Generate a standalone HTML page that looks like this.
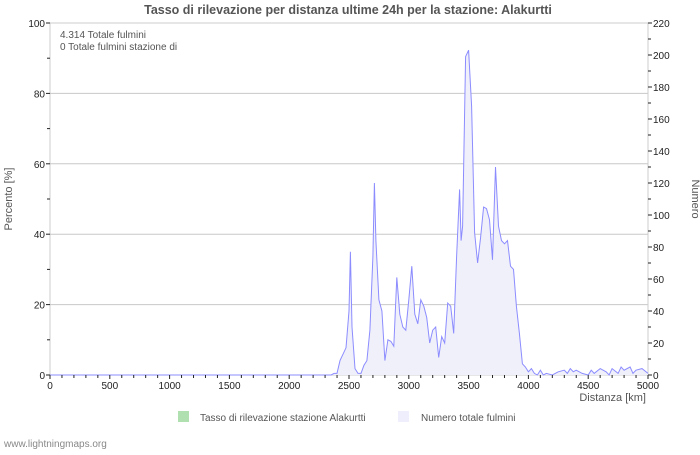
<!DOCTYPE html>
<html><head><meta charset="utf-8"><style>
body{margin:0;background:#fff;}
svg text{font-family:"Liberation Sans","DejaVu Sans",sans-serif;}
</style></head><body>
<svg id="c" width="700" height="450" xmlns="http://www.w3.org/2000/svg">
<rect width="700" height="450" fill="#fff"/>
<text x="348" y="14" text-anchor="middle" font-size="12.5" font-weight="bold" fill="#555">Tasso di rilevazione per distanza ultime 24h per la stazione: Alakurtti</text>
<g id="grid"></g>
<rect x="50" y="23" width="598" height="352" fill="none" stroke="#ccc"/>
<path id="area" fill="#f0f0fb" stroke="none"/>
<path id="line" fill="none" stroke="#8c8cff" stroke-width="1"/>
<g id="axes"></g>
<text x="60" y="38" font-size="10" fill="#555">4.314 Totale fulmini</text>
<text x="60" y="50" font-size="10" fill="#555">0 Totale fulmini stazione di</text>
<text x="12" y="199" font-size="11" fill="#555" text-anchor="middle" transform="rotate(-90 12 199)">Percento   [%]</text>
<text x="692" y="199" font-size="11" fill="#555" text-anchor="middle" transform="rotate(90 692 199)">Numero</text>
<text x="646" y="401" font-size="11" fill="#555" text-anchor="end">Distanza   [km]</text>
<rect x="178" y="411" width="11" height="11" fill="#b0e0b0"/>
<text x="200" y="421" font-size="10" fill="#555">Tasso di rilevazione stazione Alakurtti</text>
<rect x="398" y="411" width="11" height="11" fill="#eeeefc"/>
<text x="421" y="421" font-size="10" fill="#555">Numero totale fulmini</text>
<text x="4" y="447" font-size="10" fill="#888">www.lightningmaps.org</text>
</svg>
<script>
const leftTicks=[0,20,40,60,80,100];
const rightTicks=[0,20,40,60,80,100,120,140,160,180,200,220];
const xTicks=[0,500,1000,1500,2000,2500,3000,3500,4000,4500,5000];
const distances=[0,2350,2375,2400,2425,2450,2475,2500,2512,2525,2550,2575,2600,2625,2650,2675,2700,2712,2725,2750,2775,2800,2825,2850,2875,2900,2925,2950,2975,3000,3025,3050,3075,3100,3125,3150,3175,3200,3225,3250,3275,3300,3325,3350,3375,3400,3425,3437,3450,3475,3500,3525,3550,3575,3600,3625,3650,3675,3700,3725,3750,3775,3800,3825,3850,3875,3900,3925,3950,3975,4000,4025,4050,4075,4100,4125,4150,4200,4250,4300,4325,4350,4375,4400,4450,4500,4525,4550,4600,4650,4675,4700,4750,4775,4800,4850,4875,4900,4950,5000];
const totals=[0,0,1,1,9,13,17,40,77,30,4,1,1,6,9,28,74,120,84,47,40,9,22,21,18,61,38,30,28,47,68,38,32,47,43,36,20,28,30,11,24,20,45,43,26,74,116,84,93,199,203,168,89,70,86,105,104,97,72,130,93,84,82,84,68,66,43,26,7,5,2,4,1,0,3,0,1,0,2,3,1,4,2,3,1,0,3,1,4,2,0,4,1,5,3,5,1,3,4,1];
const X0=50,X1=648,Y0=375,Y1=23;
const xs=d=>X0+d/5000*(X1-X0);
const yl=v=>Y0-v/100*(Y0-Y1);
const yr=v=>Y0-v/220*(Y0-Y1);
const NS="http://www.w3.org/2000/svg";
const grid=document.getElementById('grid'),axes=document.getElementById('axes');
function mk(tag,at,parent){const e=document.createElementNS(NS,tag);for(const k in at)e.setAttribute(k,at[k]);parent.appendChild(e);return e;}
leftTicks.forEach(v=>{
 if(v>0&&v<100){const g=mk('line',{x1:X0,x2:X1,y1:yl(v),y2:yl(v),stroke:'#c8c8c8'},grid);
 
 }
 const t=mk('text',{x:45,y:yl(v)+4,'font-size':10,'text-anchor':'end',fill:'#222'},axes);t.textContent=v;
 
 
 mk('line',{x1:X0-4,x2:X0,y1:yl(v),y2:yl(v),stroke:'#222'},axes);
 if(v<100)mk('line',{x1:X0-3,x2:X0,y1:yl(v+10),y2:yl(v+10),stroke:'#222'},axes);
});
rightTicks.forEach(v=>{
 const t=mk('text',{x:653,y:yr(v)+4,'font-size':10,fill:'#222'},axes);t.textContent=v;
 
 
 mk('line',{x1:X1,x2:X1+4,y1:yr(v),y2:yr(v),stroke:'#222'},axes);
 if(v<220)mk('line',{x1:X1,x2:X1+3,y1:yr(v+10),y2:yr(v+10),stroke:'#222'},axes);
});
xTicks.forEach(v=>{
 const t=mk('text',{x:xs(v),y:389,'font-size':10,'text-anchor':'middle',fill:'#222'},axes);t.textContent=v;
 
 
});
for(let d=0;d<=5000;d+=100)mk('line',{x1:xs(d),x2:xs(d),y1:Y0,y2:Y0+(d%500?3:4),stroke:'#222'},axes);
let p='';distances.forEach((d,i)=>{p+=(i?'L':'M')+xs(d).toFixed(1)+','+yr(totals[i]).toFixed(1);});
document.getElementById('line').setAttribute('d',p);
document.getElementById('area').setAttribute('d',p+'L'+xs(distances[distances.length-1])+','+Y0+'L'+xs(distances[0])+','+Y0+'Z');
</script>
</body></html>
